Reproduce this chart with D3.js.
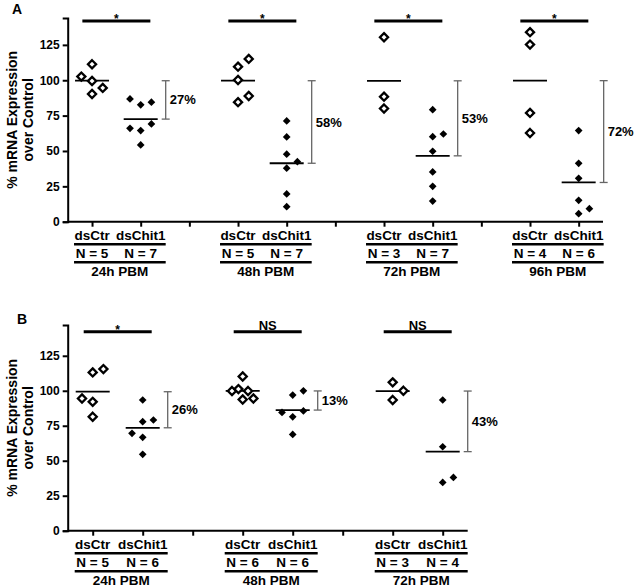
<!DOCTYPE html>
<html>
<head>
<meta charset="utf-8">
<script src="https://cdn.jsdelivr.net/npm/d3@7"></script>
<style>
  html, body { margin: 0; padding: 0; background: #fff; }
  svg { display: block; }
  text { font-family: Arial, "Liberation Sans", sans-serif; font-weight: bold; fill: #000; }
</style>
</head>
<body>
<svg id="chart" width="634" height="587"></svg>
<script>
// ---------- DATA ----------
const treatments = ["dsCtr", "dsChit1"];
const yTicks = [0, 25, 50, 75, 100, 125];
const yLabelLines = ["% mRNA Expression", "over Control"];

// Panel A
const groupsA = ["24h PBM", "48h PBM", "72h PBM", "96h PBM"];
const nA = [[5, 7], [5, 7], [3, 7], [4, 6]];
const sigA = ["*", "*", "*", "*"];
const reductionA = ["27%", "58%", "53%", "72%"];
const ctrA = [
  [102.6, 111.3, 99.5, 90.3, 94.6],
  [109.6, 115.1, 100.2, 84.5, 88.9],
  [130.4, 88.4, 80.0],
  [134.0, 125.2, 76.9, 62.7]
];
const ctrLaneA = [[-1, 0, 0, 0, 1], [0, 1, 0, 0, 1], [0, 0, 0], [0, 0, 0, 0]];
const chitA = [
  [86.8, 82.6, 84.5, 66.0, 64.4, 69.1, 54.3],
  [71.2, 59.9, 47.7, 42.4, 37.8, 19.6, 10.6],
  [79.2, 60.1, 62.0, 49.8, 35.2, 25.0, 14.6],
  [64.4, 41.3, 30.7, 15.1, 9.2, 5.7]
];
const chitLaneA = [[-1, 0, 1, -1, 0, 1, 0], [0, 0, 0, 1, 0, 0, 0], [0, 0, 1, 0, 0, 0, 0], [0, 0, 0, 0, 1, 0]];

// Panel B
const groupsB = ["24h PBM", "48h PBM", "72h PBM"];
const nB = [[5, 6], [6, 6], [3, 4]];
const sigB = ["*", "NS", "NS"];
const reductionB = ["26%", "13%", "43%"];
const ctrB = [
  [113.1, 115.5, 94.5, 92.1, 81.4],
  [110.2, 99.8, 101.2, 99.8, 93.8, 94.5],
  [106.0, 100.0, 93.4]
];
const ctrLaneB = [[0, 1, -1, 0, 0], [0, -1, -0.4, 0.5, 0, 1], [0, 1, 0]];
const chitB = [
  [93.4, 77.9, 79.1, 69.6, 66.7, 54.6],
  [96.9, 100.0, 84.5, 81.4, 85.6, 68.8],
  [93.4, 60.0, 34.5, 38.1]
];
const chitLaneB = [[0, 0, 1, -1, 0, 0], [0, 1, -1, 0, 1, 0], [0, 0, 0, 1]];

// ---------- DRAW ----------
const svg = d3.select("#chart");

function drawPanel(p) {
  const g = svg.append("g");
  const keys = [];
  p.groups.forEach((grp, i) => {
    treatments.forEach(t => keys.push(grp + "|" + t));
    if (i < p.groups.length - 1) keys.push("gap" + i);
  });
  const x = d3.scalePoint().domain(keys).range(p.xRange).padding(0.5);
  const y = d3.scaleLinear().domain([0, p.yMax]).range(p.yRange);
  const axisY = p.yRange[0];
  const lane = 10.7;

  // y axis
  const yAxis = g.append("g").attr("transform", `translate(${p.xRange[0]},0)`)
    .call(d3.axisLeft(y).tickValues(yTicks).tickSize(5).tickPadding(3));
  yAxis.select(".domain").attr("stroke", "#000").attr("stroke-width", 2);
  yAxis.selectAll(".tick line").attr("stroke", "#000").attr("stroke-width", 2);
  yAxis.selectAll(".tick text").style("font-size", "12px").style("font-family", "Arial, 'Liberation Sans', sans-serif").style("font-weight", "bold");

  // x axis
  const xAxis = g.append("g").attr("transform", `translate(0,${axisY})`)
    .call(d3.axisBottom(x).tickSize(5).tickFormat(""));
  xAxis.select(".domain").attr("stroke", "#000").attr("stroke-width", 2)
    .attr("d", `M${p.xRange[0]},0H${p.xRange[1]}`);
  xAxis.selectAll(".tick line").attr("stroke", "#000").attr("stroke-width", 2);

  // y label
  const yMid = (p.yRange[0] + p.yRange[1]) / 2;
  yLabelLines.forEach((line, i) => {
    g.append("text")
      .attr("transform", `translate(${17 + i * 16},${yMid}) rotate(-90)`)
      .attr("text-anchor", "middle")
      .style("font-size", "14px")
      .text(line);
  });

  // panel letter
  g.append("text").attr("x", p.letterPos[0]).attr("y", p.letterPos[1])
    .style("font-size", "14px").text(p.letter);

  const ctrPath = d3.symbol().type(d3.symbolDiamond2).size(42)();
  const chitPath = d3.symbol().type(d3.symbolDiamond2).size(38)();

  p.groups.forEach((grp, i) => {
    const xc = x(grp + "|dsCtr");
    const xh = x(grp + "|dsChit1");
    const mc = d3.mean(p.ctr[i]);
    const mh = d3.mean(p.chit[i]);

    // mean lines
    [[xc, mc], [xh, mh]].forEach(([cx, m]) => {
      g.append("line").attr("x1", cx - 17).attr("x2", cx + 17)
        .attr("y1", y(m)).attr("y2", y(m)).attr("stroke", "#000").attr("stroke-width", 1.8);
    });

    // control points (open diamonds)
    g.selectAll(null).data(p.ctr[i].map((v, j) => ({ v, l: p.ctrLane[i][j] })))
      .enter().append("path")
      .attr("d", ctrPath)
      .attr("transform", d => `translate(${xc + d.l * lane},${y(d.v)})`)
      .attr("fill", "#fff").attr("stroke", "#000").attr("stroke-width", 2.3);

    // dsChit1 points (filled diamonds)
    g.selectAll(null).data(p.chit[i].map((v, j) => ({ v, l: p.chitLane[i][j] })))
      .enter().append("path")
      .attr("d", chitPath)
      .attr("transform", d => `translate(${xh + d.l * lane},${y(d.v)})`)
      .attr("fill", "#000");

    // significance bar
    const mid = (xc + xh) / 2;
    const barY = p.sigY;
    g.append("line").attr("x1", mid - 34).attr("x2", mid + 34)
      .attr("y1", barY).attr("y2", barY).attr("stroke", "#000").attr("stroke-width", 3);
    const isStar = p.sig[i] === "*";
    g.append("text").attr("x", mid).attr("y", isStar ? barY + 2 : barY - 2)
      .attr("text-anchor", "middle").style("font-size", isStar ? "12px" : "13px")
      .text(p.sig[i]);

    // reduction bracket
    const bx = xh + 25;
    const y1 = y(mc), y2 = y(mh);
    const br = g.append("g").attr("stroke", "#666").attr("stroke-width", 1.3);
    br.append("line").attr("x1", bx).attr("x2", bx).attr("y1", y1).attr("y2", y2);
    br.append("line").attr("x1", bx - 4).attr("x2", bx + 4).attr("y1", y1).attr("y2", y1);
    br.append("line").attr("x1", bx - 4).attr("x2", bx + 4).attr("y1", y2).attr("y2", y2);
    g.append("text").attr("x", bx + 4).attr("y", (y1 + y2) / 2).attr("dy", "0.35em")
      .style("font-size", "13px").text(p.reduction[i]);

    // category labels
    treatments.forEach((t, k) => {
      const cx = k === 0 ? xc : xh;
      g.append("text").attr("x", cx).attr("y", axisY + 18)
        .attr("text-anchor", "middle").style("font-size", "13.5px").text(t);
      g.append("text").attr("x", cx).attr("y", axisY + 36)
        .attr("text-anchor", "middle").style("font-size", "13.5px").text("N = " + p.n[i][k]);
    });
    const lx1 = xc - 18, lx2 = xh + 25;
    [axisY + 22.5, axisY + 40.5].forEach(ly => {
      g.append("line").attr("x1", lx1).attr("x2", lx2).attr("y1", ly).attr("y2", ly)
        .attr("stroke", "#000").attr("stroke-width", 2.5);
    });
    g.append("text").attr("x", (lx1 + lx2) / 2).attr("y", axisY + 54)
      .attr("text-anchor", "middle").style("font-size", "13.5px").text(grp);
  });
}

drawPanel({
  letter: "A", letterPos: [12, 14],
  groups: groupsA, n: nA, sig: sigA, reduction: reductionA,
  ctr: ctrA, ctrLane: ctrLaneA, chit: chitA, chitLane: chitLaneA,
  xRange: [67.7, 603], yRange: [221.7, 18], yMax: 144, sigY: 21
});
drawPanel({
  letter: "B", letterPos: [17, 324],
  groups: groupsB, n: nB, sig: sigB, reduction: reductionB,
  ctr: ctrB, ctrLane: ctrLaneB, chit: chitB, chitLane: chitLaneB,
  xRange: [67.7, 467.7], yRange: [530.7, 325], yMax: 147, sigY: 331.7
});
</script>
</body>
</html>
